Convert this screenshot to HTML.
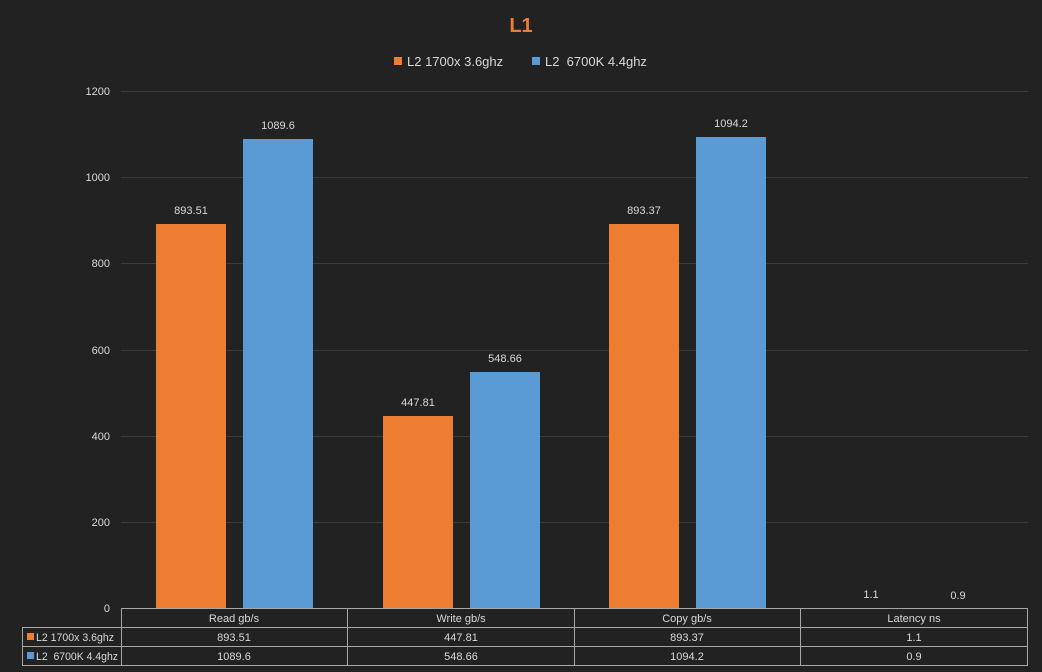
<!DOCTYPE html>
<html><head><meta charset="utf-8"><style>
html,body{margin:0;padding:0;background:#222222;}
svg{display:block;font-family:"Liberation Sans",sans-serif;}
</style></head><body>
<svg width="1042" height="672" viewBox="0 0 1042 672">
<rect width="1042" height="672" fill="#222222"/>
<text x="521" y="32" text-anchor="middle" font-size="20" font-weight="bold" fill="#ed7d31">L1</text>
<rect x="394" y="57" width="8" height="8" fill="#ed7d31"/>
<text x="407" y="66" font-size="13" fill="#d9d9d9">L2 1700x 3.6ghz</text>
<rect x="532" y="57" width="8" height="8" fill="#5b9bd5"/>
<text x="545" y="66" font-size="13" fill="#d9d9d9">L2&#160; 6700K 4.4ghz</text>
<g stroke="#3a3a3a" stroke-width="1">
<line x1="121" y1="91.5" x2="1028" y2="91.5"/>
<line x1="121" y1="177.5" x2="1028" y2="177.5"/>
<line x1="121" y1="263.5" x2="1028" y2="263.5"/>
<line x1="121" y1="350.5" x2="1028" y2="350.5"/>
<line x1="121" y1="436.5" x2="1028" y2="436.5"/>
<line x1="121" y1="522.5" x2="1028" y2="522.5"/>
</g>
<g font-size="11" fill="#d9d9d9" text-anchor="end">
<text x="110" y="95">1200</text><text x="110" y="181">1000</text><text x="110" y="267">800</text>
<text x="110" y="354">600</text><text x="110" y="440">400</text><text x="110" y="526">200</text>
<text x="110" y="612">0</text>
</g>
<g fill="#ed7d31">
<rect x="156" y="224" width="70" height="385"/>
<rect x="383" y="416" width="70" height="193"/>
<rect x="609" y="224" width="70" height="385"/>
<rect x="836" y="608" width="70" height="1"/>
</g>
<g fill="#5b9bd5">
<rect x="243" y="139" width="70" height="470"/>
<rect x="470" y="372" width="70" height="237"/>
<rect x="696" y="137" width="70" height="472"/>
<rect x="923" y="608" width="70" height="1"/>
</g>
<g font-size="11" fill="#d9d9d9" text-anchor="middle">
<text x="191" y="214">893.51</text><text x="278" y="129">1089.6</text>
<text x="418" y="406">447.81</text><text x="505" y="362">548.66</text>
<text x="644" y="214">893.37</text><text x="731" y="127">1094.2</text>
<text x="871" y="598">1.1</text><text x="958" y="599">0.9</text>
</g>
<g stroke="#a6a6a6" stroke-width="1" fill="none">
<line x1="121.5" y1="608.5" x2="1027.5" y2="608.5"/>
<line x1="22.5" y1="627.5" x2="1027.5" y2="627.5"/>
<line x1="22.5" y1="646.5" x2="1027.5" y2="646.5"/>
<line x1="22.5" y1="665.5" x2="1027.5" y2="665.5"/>
<line x1="22.5" y1="627" x2="22.5" y2="666"/>
<line x1="121.5" y1="608" x2="121.5" y2="666"/>
<line x1="347.5" y1="608" x2="347.5" y2="666"/>
<line x1="574.5" y1="608" x2="574.5" y2="666"/>
<line x1="800.5" y1="608" x2="800.5" y2="666"/>
<line x1="1027.5" y1="608" x2="1027.5" y2="666"/>
</g>
<rect x="27" y="633" width="7" height="7" fill="#ed7d31"/>
<rect x="27" y="652" width="7" height="7" fill="#5b9bd5"/>
<g font-size="11" fill="#d9d9d9">
<text x="36" y="641" textLength="78" lengthAdjust="spacingAndGlyphs">L2 1700x 3.6ghz</text>
<text x="36" y="660" textLength="82" lengthAdjust="spacingAndGlyphs">L2&#160; 6700K 4.4ghz</text>
</g>
<g font-size="11" fill="#d9d9d9" text-anchor="middle">
<text x="234" y="622">Read gb/s</text><text x="461" y="622">Write gb/s</text>
<text x="687" y="622">Copy gb/s</text><text x="914" y="622">Latency ns</text>
<text x="234" y="641">893.51</text><text x="461" y="641">447.81</text>
<text x="687" y="641">893.37</text><text x="914" y="641">1.1</text>
<text x="234" y="660">1089.6</text><text x="461" y="660">548.66</text>
<text x="687" y="660">1094.2</text><text x="914" y="660">0.9</text>
</g>
</svg>
</body></html>
